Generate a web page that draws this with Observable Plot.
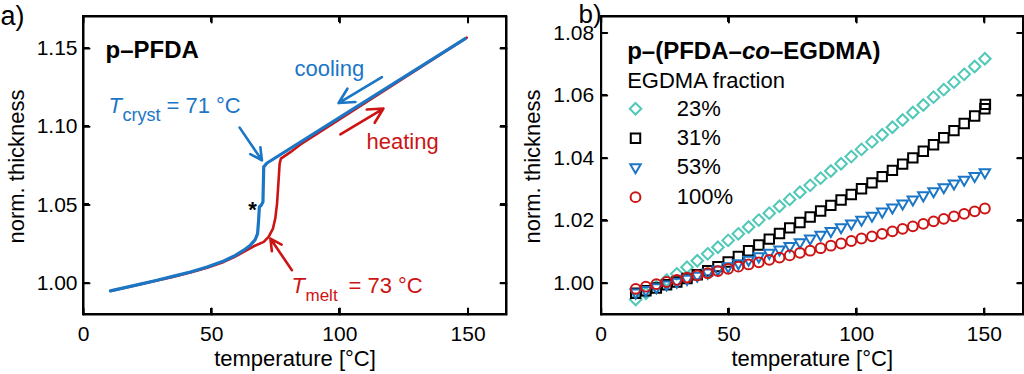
<!DOCTYPE html>
<html><head><meta charset="utf-8">
<script src="https://cdn.jsdelivr.net/npm/d3@7"></script>
<script src="https://cdn.jsdelivr.net/npm/@observablehq/plot@0.6"></script>
<style>
html,body{margin:0;padding:0;background:#fff;}
#wrap{position:relative;width:1024px;height:374px;overflow:hidden;}
#pa,#pb{position:absolute;top:0;width:512px;height:374px;}
#pa{left:0;} #pb{left:512px;}
#wrap svg, #wrap svg text{font-family:"Liberation Sans", Arial, Helvetica, sans-serif !important;color:#000;}
.bx{position:absolute;box-sizing:border-box;border:2px solid #000;pointer-events:none;}
.tk{position:absolute;background:#000;pointer-events:none;}
</style></head>
<body><div id="wrap"><div id="pa"></div><div id="pb"></div></div>
<script>
// ---------- data: panel a (p-PFDA) ----------
const coolT = [10.5, 15.7, 22.2, 28.7, 35.2, 41.7, 48.2, 54.7, 58.6, 62.5, 65.1, 67.0, 67.9, 68.3, 68.6, 69.3, 70.0, 70.3, 71.6, 99.5, 148.9];
const coolV = [0.9951, 0.9970, 0.9994, 1.0019, 1.0045, 1.0072, 1.0104, 1.0142, 1.0172, 1.0211, 1.0243, 1.0279, 1.0317, 1.0402, 1.0487, 1.0498, 1.0519, 1.0743, 1.0768, 1.1055, 1.1563];
const heatT = [10.5, 15.7, 22.2, 28.7, 35.2, 41.7, 48.2, 54.7, 58.6, 62.5, 66.4, 70.3, 72.2, 73.9, 74.8, 75.5, 76.1, 76.5, 77.0, 80.7, 84.5, 149.5];
const heatV = [0.9950, 0.9969, 0.9993, 1.0017, 1.0042, 1.0068, 1.0099, 1.0136, 1.0165, 1.0200, 1.0236, 1.0264, 1.0296, 1.0349, 1.0413, 1.0509, 1.0658, 1.0764, 1.0796, 1.0837, 1.0885, 1.1569];

// ---------- data: panel b (p-(PFDA-co-EGDMA)) ----------
const tempB = [13.5,17.5,21.6,25.6,29.6,33.6,37.6,41.7,45.7,49.7,53.7,57.7,61.7,65.8,69.8,73.8,77.8,81.8,85.9,89.9,93.9,97.9,101.9,106.0,110.0,114.0,118.0,122.0,126.1,130.1,134.1,138.1,142.1,146.2,150.2];
const frac23 = [0.9948,0.9968,0.9989,1.0010,1.0030,1.0051,1.0072,1.0094,1.0115,1.0137,1.0158,1.0180,1.0202,1.0224,1.0246,1.0268,1.0291,1.0313,1.0336,1.0359,1.0382,1.0405,1.0428,1.0452,1.0475,1.0499,1.0522,1.0546,1.0570,1.0595,1.0619,1.0643,1.0668,1.0693,1.0718];
const frac31 = [0.9968,0.9976,0.9985,0.9995,1.0004,1.0015,1.0027,1.0040,1.0053,1.0068,1.0086,1.0104,1.0122,1.0141,1.0159,1.0177,1.0194,1.0212,1.0231,1.0249,1.0266,1.0284,1.0302,1.0321,1.0341,1.0361,1.0381,1.0401,1.0422,1.0443,1.0465,1.0488,1.0511,1.0535,1.0558];
const frac31ExtraT = [150.4];
const frac31ExtraV = [1.0572];
const frac53 = [0.9970,0.9978,0.9987,0.9996,1.0005,1.0014,1.0024,1.0034,1.0044,1.0054,1.0064,1.0075,1.0086,1.0097,1.0108,1.0119,1.0131,1.0143,1.0155,1.0167,1.0179,1.0191,1.0203,1.0216,1.0229,1.0242,1.0255,1.0268,1.0281,1.0294,1.0307,1.0319,1.0331,1.0343,1.0355];
const frac100 = [0.9982,0.9989,0.9997,1.0004,1.0011,1.0018,1.0025,1.0032,1.0039,1.0046,1.0053,1.0060,1.0067,1.0075,1.0082,1.0089,1.0097,1.0104,1.0112,1.0120,1.0127,1.0135,1.0143,1.0150,1.0158,1.0166,1.0174,1.0182,1.0190,1.0198,1.0206,1.0214,1.0222,1.0230,1.0239];
const fracLabels = ["23%", "31%", "53%", "100%"];

// ---------- ticks / domains ----------
const xTicks = [0, 50, 100, 150];
const yTicksA = [1.00, 1.05, 1.10, 1.15];
const yTicksB = [1.00, 1.02, 1.04, 1.06, 1.08];
const xDomA = [0, 165], yDomA = [0.98, 1.1704];
const xDomB = [0, 165.2], yDomB = [0.99, 1.0853];

// ---------- styles ----------
const BLUE = "#1b76c6", RED = "#cc1414", TEAL = "#4fc8b8", BLACK = "black";
const TICKLEN = 6;
const A = {ml: 83, mr: 6, mt: 16, mb: 60};
const B = {ml: 88.7, mr: 1.3, mt: 16, mb: 60};

const triDown = {draw(ctx, size) {
  const s = Math.sqrt(size) * 0.6824, t = s / 2, u = s * Math.sqrt(3) / 2;
  ctx.moveTo(0, s); ctx.lineTo(u, -t); ctx.lineTo(-u, -t); ctx.closePath();
}};

function lbl(txt, dx, dy, opts = {}) {
  return Plot.text([txt], {frameAnchor: "top-left", dx, dy, text: d => d,
    textAnchor: "start", lineAnchor: "bottom", fontSize: 22, ...opts});
}

// box frame + inward ticks on all four sides, through the scales
function boxMarks(M, xd, yd, xt, yt) {
  const plotW = 512 - M.ml - M.mr, plotH = 374 - M.mt - M.mb;
  const kx = TICKLEN * (xd[1] - xd[0]) / plotW;
  const ky = TICKLEN * (yd[1] - yd[0]) / plotH;
  const pts = [];
  xt.forEach((x, i) => {
    pts.push({g: "xb" + i, x, y: yd[0]}, {g: "xb" + i, x, y: yd[0] + ky});
    pts.push({g: "xt" + i, x, y: yd[1]}, {g: "xt" + i, x, y: yd[1] - ky});
  });
  yt.forEach((y, i) => {
    pts.push({g: "yl" + i, x: xd[0], y}, {g: "yl" + i, x: xd[0] + kx, y});
    pts.push({g: "yr" + i, x: xd[1], y}, {g: "yr" + i, x: xd[1] - kx, y});
  });
  return [
    Plot.frame({stroke: "black", strokeWidth: 2}),
    Plot.line(pts, {x: "x", y: "y", z: "g", stroke: "black", strokeWidth: 2})
  ];
}

// same box and ticks, positioned from the plot's own scales, as an overlay layer
function boxOverlay(host, plot, xt, yt) {
  const sx = plot.scale("x"), sy = plot.scale("y");
  const L = sx.apply(sx.domain[0]), R = sx.apply(sx.domain[1]);
  const T = sy.apply(sy.domain[1]), Bt = sy.apply(sy.domain[0]);
  const add = (cls, l, t, w, h) => {
    const d = document.createElement("div");
    d.className = cls;
    Object.assign(d.style, {left: l + "px", top: t + "px", width: w + "px", height: h + "px"});
    host.append(d);
  };
  add("bx", L - 1, T - 1, R - L + 2, Bt - T + 2);
  xt.forEach(v => {
    const x = sx.apply(v);
    add("tk", x - 1, Bt - TICKLEN, 2, TICKLEN);
    add("tk", x - 1, T, 2, TICKLEN);
  });
  yt.forEach(v => {
    const y = sy.apply(v);
    add("tk", L, y - 1, TICKLEN, 2);
    add("tk", R - TICKLEN, y - 1, TICKLEN, 2);
  });
}
function touch(svg) { svg.querySelectorAll(":scope > *").forEach(el => { try { el.getBBox(); } catch (e) {} }); }

// ---------- panel a ----------
const cooling = coolT.map((t, i) => ({t, v: coolV[i]}));
const heating = heatT.map((t, i) => ({t, v: heatV[i]}));
const arrowsBlue = [
  {x1: 116.4, y1: 1.1317, x2: 99.5, y2: 1.1151},
  {x1: 60.9, y1: 1.0994, x2: 69.6, y2: 1.0785}
];
const arrowsRed = [
  {x1: 100.2, y1: 1.0951, x2: 117.0, y2: 1.1116},
  {x1: 81.3, y1: 1.0083, x2: 72.9, y2: 1.0285}
];
const arrowOpts = {x1: "x1", y1: "y1", x2: "x2", y2: "y2", strokeWidth: 2.6, headLength: 13, headAngle: 55};
const plotA = Plot.plot({
  width: 512, height: 374,
  marginLeft: A.ml, marginRight: A.mr, marginTop: A.mt, marginBottom: A.mb,
  x: {domain: xDomA, axis: null},
  y: {domain: yDomA, axis: null},
  marks: [
    ...boxMarks(A, xDomA, yDomA, xTicks, yTicksA),
    Plot.line(heating, {x: "t", y: "v", stroke: RED, strokeWidth: 2.6}),
    Plot.line(cooling, {x: "t", y: "v", stroke: BLUE, strokeWidth: 3.2}),
    Plot.arrow(arrowsBlue, {...arrowOpts, stroke: BLUE}),
    Plot.arrow(arrowsRed, {...arrowOpts, stroke: RED}),
    Plot.axisX({ticks: xTicks, tickSize: 0, tickPadding: 12, label: null, tickFormat: d => String(d), fontSize: 21}),
    Plot.axisY({ticks: yTicksA, tickSize: 0, tickPadding: 6, label: null, tickFormat: d => d.toFixed(2), fontSize: 21}),
    Plot.text(["temperature [°C]"], {frameAnchor: "bottom", dy: 51, text: d => d, textAnchor: "middle", lineAnchor: "bottom", fontSize: 22}),
    Plot.text(["norm. thickness"], {frameAnchor: "left", dx: -67, dy: 1, rotate: -90, text: d => d, textAnchor: "middle", lineAnchor: "middle", fontSize: 22}),
    lbl("a)", -83, 8, {fontSize: 27}),
    lbl("p–PFDA", 22, 41, {fontWeight: "bold", fontSize: 24}),
    lbl("cooling", 211, 59, {fill: BLUE}),
    lbl("heating", 283, 132, {fill: RED}),
    lbl("T", 25, 96, {fill: BLUE, fontStyle: "italic"}),
    lbl("cryst", 39, 104, {fill: BLUE, fontSize: 18}),
    lbl("= 71 °C", 83, 96, {fill: BLUE}),
    lbl("T", 208, 276, {fill: RED, fontStyle: "italic"}),
    lbl("melt", 222, 284, {fill: RED, fontSize: 17}),
    lbl("= 73 °C", 265, 276, {fill: RED}),
    lbl("*", 169, 200, {textAnchor: "middle", fontSize: 22, fontWeight: "bold"})
  ]
});
document.getElementById("pa").append(plotA);
touch(plotA);
boxOverlay(document.getElementById("pa"), plotA, xTicks, yTicksA);

// ---------- panel b ----------
const seriesB = [
  {label: fracLabels[0], vals: frac23, symbol: "diamond2", r: 5.2, color: TEAL},
  {label: fracLabels[1], vals: frac31, symbol: "square2", r: 6.0, color: BLACK},
  {label: fracLabels[2], vals: frac53, symbol: triDown, r: 5.0, color: BLUE},
  {label: fracLabels[3], vals: frac100, symbol: "circle", r: 4.9, color: RED}
];
const t1 = "p–(PFDA–", t2 = "co", t3 = "–EGDMA)";
const tx1 = 26, tx2 = tx1 + 114.7, tx3 = tx2 + 28.0;

const marksB = [];
seriesB.forEach(s => {
  const pts = tempB.map((t, i) => ({t, v: s.vals[i]}));
  if (s.label === "31%") frac31ExtraT.forEach((t, i) => pts.push({t, v: frac31ExtraV[i]}));
  marksB.push(Plot.dot(pts, {x: "t", y: "v", symbol: s.symbol, r: s.r, stroke: s.color, strokeWidth: 2, fill: "none"}));
});
const legendRows = [92.3, 121.7, 150.7, 180.7];
seriesB.forEach((s, i) => {
  marksB.push(Plot.dot([s.label], {frameAnchor: "top-left", dx: 34.3, dy: legendRows[i], symbol: s.symbol, r: s.r, stroke: s.color, strokeWidth: 2, fill: "none"}));
  marksB.push(Plot.text([s.label], {frameAnchor: "top-left", dx: 75.5, dy: legendRows[i], text: d => d, textAnchor: "start", lineAnchor: "middle", fontSize: 22}));
});

const plotB = Plot.plot({
  width: 512, height: 374,
  marginLeft: B.ml, marginRight: B.mr, marginTop: B.mt, marginBottom: B.mb,
  x: {domain: xDomB, axis: null},
  y: {domain: yDomB, axis: null},
  marks: [
    ...boxMarks(B, xDomB, yDomB, xTicks, yTicksB),
    ...marksB,
    Plot.axisX({ticks: xTicks, tickSize: 0, tickPadding: 12, label: null, tickFormat: d => String(d), fontSize: 21}),
    Plot.axisY({ticks: yTicksB, tickSize: 0, tickPadding: 7, label: null, tickFormat: d => d.toFixed(2), fontSize: 21}),
    Plot.text(["temperature [°C]"], {frameAnchor: "bottom", dy: 51, text: d => d, textAnchor: "middle", lineAnchor: "bottom", fontSize: 22}),
    Plot.text(["norm. thickness"], {frameAnchor: "left", dx: -68, dy: 1, rotate: -90, text: d => d, textAnchor: "middle", lineAnchor: "middle", fontSize: 22}),
    lbl("b)", -22.7, 6, {fontSize: 26}),
    lbl(t1, tx1, 42, {fontWeight: "bold", fontSize: 24}),
    lbl(t2, tx2, 42, {fontWeight: "bold", fontStyle: "italic", fontSize: 24}),
    lbl(t3, tx3, 42, {fontWeight: "bold", fontSize: 24}),
    lbl("EGDMA fraction", 26, 71)
  ]
});
document.getElementById("pb").append(plotB);
touch(plotB);
boxOverlay(document.getElementById("pb"), plotB, xTicks, yTicksB);
</script>
</body></html>
